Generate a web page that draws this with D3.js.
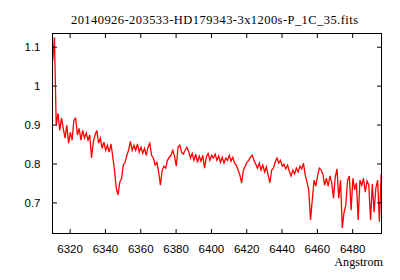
<!DOCTYPE html>
<html>
<head>
<meta charset="utf-8">
<script src="https://cdn.jsdelivr.net/npm/d3@7"></script>
<style>
  body { margin: 0; background: #fff; }
</style>
</head>
<body>
<div id="chart"></div>
<script>
// Spectrum sampling (like FITS CRVAL1 / CDELT1)
const lambdaStart = 6310.4;
const lambdaStep = 1.0;

// Normalised flux, one value per sample
const flux = [
  1.062, 1.124, 0.898, 0.929, 0.885, 0.917, 0.890, 0.865, 0.898, 0.852,
  0.880, 0.860, 0.911, 0.916, 0.873, 0.890, 0.860, 0.885, 0.865, 0.878,
  0.860, 0.873, 0.814, 0.855, 0.873, 0.885, 0.852, 0.865, 0.839, 0.855,
  0.834, 0.847, 0.829, 0.850, 0.819, 0.783, 0.737, 0.719, 0.752, 0.762,
  0.796, 0.803, 0.821, 0.834, 0.857, 0.834, 0.847, 0.834, 0.850, 0.829,
  0.842, 0.826, 0.839, 0.821, 0.842, 0.852, 0.821, 0.814, 0.796, 0.803,
  0.778, 0.744, 0.783, 0.793, 0.788, 0.808, 0.816, 0.821, 0.834, 0.819,
  0.793, 0.842, 0.847, 0.829, 0.824, 0.834, 0.842, 0.831, 0.814, 0.826,
  0.808, 0.824, 0.803, 0.819, 0.806, 0.821, 0.788, 0.816, 0.826, 0.808,
  0.821, 0.814, 0.824, 0.808, 0.819, 0.803, 0.816, 0.801, 0.814, 0.808,
  0.821, 0.806, 0.816, 0.801, 0.796, 0.783, 0.770, 0.750, 0.783, 0.793,
  0.803, 0.808, 0.816, 0.821, 0.808, 0.798, 0.788, 0.801, 0.783, 0.796,
  0.778, 0.791, 0.770, 0.750, 0.783, 0.788, 0.803, 0.814, 0.801, 0.808,
  0.793, 0.798, 0.786, 0.796, 0.780, 0.768, 0.783, 0.773, 0.788, 0.778,
  0.793, 0.786, 0.801, 0.770, 0.752, 0.732, 0.655, 0.706, 0.757, 0.742,
  0.768, 0.788, 0.783, 0.773, 0.744, 0.762, 0.742, 0.768, 0.750, 0.711,
  0.765, 0.786, 0.711, 0.757, 0.634, 0.675, 0.693, 0.757, 0.768, 0.680,
  0.762, 0.732, 0.750, 0.655, 0.757, 0.744, 0.762, 0.726, 0.755, 0.745,
  0.655, 0.747, 0.675, 0.737, 0.757, 0.650, 0.773
];

const xTicks = [6320, 6340, 6360, 6380, 6400, 6420, 6440, 6460, 6480];
const yTicks = [0.7, 0.8, 0.9, 1.0, 1.1];
const xRange = [6310.3, 6496.6];
const yRange = [0.62, 1.134];

const titleText = "20140926-203533-HD179343-3x1200s-P_1C_35.fits";
const xLabel = "Angstrom";

const width = 400;
const height = 280;
const margin = { top: 33.5, right: 18.5, bottom: 46.5, left: 52.5 };

const data = flux.map((f, i) => ({ lambda: lambdaStart + i * lambdaStep, f: f }));

const svg = d3.select("#chart")
    .append("svg")
    .attr("width", width)
    .attr("height", height)
    .style("display", "block")
    .style("background", "#fff");

const x = d3.scaleLinear()
    .domain(xRange)
    .range([margin.left, width - margin.right]);

const y = d3.scaleLinear()
    .domain(yRange)
    .range([height - margin.bottom, margin.top]);

// Clip so the spectrum stays inside the frame
svg.append("clipPath")
    .attr("id", "plot-clip")
    .append("rect")
    .attr("x", margin.left)
    .attr("y", margin.top)
    .attr("width", width - margin.left - margin.right)
    .attr("height", height - margin.top - margin.bottom);

// Spectrum line
const line = d3.line()
    .x(d => x(d.lambda))
    .y(d => y(d.f));

svg.append("path")
    .datum(data)
    .attr("clip-path", "url(#plot-clip)")
    .attr("fill", "none")
    .attr("stroke", "#ff0000")
    .attr("stroke-width", 1.3)
    .attr("stroke-linejoin", "miter")
    .attr("d", line);

// Axes, gnuplot style: inward ticks mirrored on every side
const tick = 4.5;
const axisFont = "'Liberation Sans', Arial, sans-serif";

svg.append("g")
    .attr("transform", `translate(0, ${height - margin.bottom})`)
    .call(d3.axisBottom(x).tickValues(xTicks).tickSizeInner(-tick).tickSizeOuter(0).tickPadding(11).tickFormat(d3.format("d")));

svg.append("g")
    .attr("transform", `translate(0, ${margin.top})`)
    .call(d3.axisTop(x).tickValues(xTicks).tickSizeInner(-tick).tickSizeOuter(0).tickFormat(""));

svg.append("g")
    .attr("transform", `translate(${margin.left}, 0)`)
    .call(d3.axisLeft(y).tickValues(yTicks).tickSizeInner(-tick).tickSizeOuter(0).tickPadding(12).tickFormat(d => d3.format("")(+d.toFixed(1))));

svg.append("g")
    .attr("transform", `translate(${width - margin.right}, 0)`)
    .call(d3.axisRight(y).tickValues(yTicks).tickSizeInner(-tick).tickSizeOuter(0).tickFormat(""));

svg.selectAll(".domain").remove();
svg.selectAll(".tick line").attr("stroke", "#000");
svg.selectAll(".tick text")
    .attr("fill", "#000")
    .attr("font-family", axisFont)
    .attr("font-size", "11.5px");

// Frame
svg.append("rect")
    .attr("x", margin.left)
    .attr("y", margin.top)
    .attr("width", width - margin.left - margin.right)
    .attr("height", height - margin.top - margin.bottom)
    .attr("fill", "none")
    .attr("stroke", "#000")
    .attr("stroke-width", 1);

// Title
svg.append("text")
    .attr("x", 71)
    .attr("y", 24)
    .attr("font-family", "'Liberation Serif', 'Times New Roman', serif")
    .attr("font-size", "12.5px")
    .attr("textLength", 287)
    .attr("lengthAdjust", "spacing")
    .attr("fill", "#000")
    .text(titleText);

// X label
svg.append("text")
    .attr("x", 383)
    .attr("y", 265.5)
    .attr("text-anchor", "end")
    .attr("font-family", "'Liberation Serif', 'Times New Roman', serif")
    .attr("font-size", "12.2px")
    .attr("fill", "#000")
    .text(xLabel);
</script>
</body>
</html>
